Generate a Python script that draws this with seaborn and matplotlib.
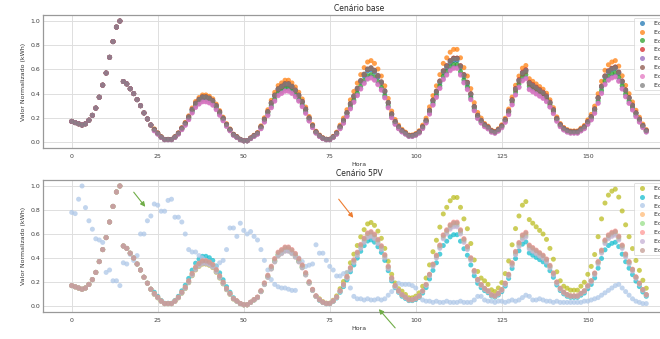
import numpy as np
import pandas as pd
import matplotlib
matplotlib.use("Agg")
import matplotlib.pyplot as plt
import seaborn as sns

# ---------------- data ----------------
hours = list(range(168))

# typical normalized hourly profile (middle series)
base_profile = [
    0.17, 0.16, 0.15, 0.14, 0.15, 0.18, 0.22, 0.28, 0.37, 0.47, 0.57, 0.70, 0.83, 0.95, 1.00,
    0.50, 0.48, 0.44, 0.40, 0.35, 0.30, 0.24, 0.19, 0.14, 0.10, 0.07, 0.04, 0.02, 0.02, 0.02,
    0.04, 0.07, 0.11, 0.15, 0.20, 0.26, 0.31, 0.34, 0.36, 0.36, 0.35, 0.33, 0.29, 0.24, 0.19,
    0.14, 0.10, 0.06, 0.04, 0.02, 0.01, 0.01, 0.03, 0.05, 0.07, 0.12, 0.18, 0.24, 0.31, 0.37,
    0.42, 0.44, 0.46, 0.46, 0.44, 0.41, 0.37, 0.32, 0.26, 0.19, 0.13, 0.08, 0.05, 0.03, 0.02,
    0.02, 0.04, 0.07, 0.12, 0.17, 0.23, 0.30, 0.36, 0.42, 0.48, 0.53, 0.57, 0.58, 0.56, 0.52,
    0.47, 0.40, 0.31, 0.22, 0.16, 0.12, 0.09, 0.07, 0.05, 0.05, 0.06, 0.08, 0.12, 0.17, 0.25,
    0.33, 0.40, 0.48, 0.56, 0.60, 0.64, 0.66, 0.66, 0.60, 0.53, 0.47, 0.38, 0.28, 0.21, 0.17,
    0.14, 0.12, 0.09, 0.08, 0.10, 0.13, 0.18, 0.25, 0.34, 0.43, 0.50, 0.56, 0.58, 0.48, 0.46,
    0.44, 0.42, 0.40, 0.37, 0.32, 0.26, 0.19, 0.14, 0.11, 0.09, 0.08, 0.08, 0.08, 0.10, 0.12,
    0.16, 0.20, 0.26, 0.35, 0.44, 0.52, 0.56, 0.58, 0.59, 0.55, 0.48, 0.41, 0.35, 0.29, 0.23,
    0.18, 0.13, 0.09,
]

# per-series daily level factors (day 0..6), scenario "base"
base_labels = ["Ed. 1", "Ed. 2", "Ed. 3", "Ed. 4", "Ed. 5", "Ed. 6", "Ed. 7", "Ed. 8"]
base_day_factors = [
    [1.00, 1.01, 1.02, 1.03, 1.02, 1.02, 1.03],
    [1.00, 1.08, 1.11, 1.16, 1.16, 1.09, 1.14],
    [1.00, 0.97, 0.96, 0.96, 0.97, 0.96, 0.97],
    [1.00, 1.03, 1.04, 1.05, 1.05, 1.03, 1.05],
    [1.00, 0.93, 0.92, 0.92, 0.93, 0.91, 0.92],
    [1.00, 1.04, 1.05, 1.06, 1.05, 1.00, 1.05],
    [1.00, 0.92, 0.91, 0.91, 0.92, 0.90, 0.91],
    [1.00, 1.03, 1.04, 1.05, 1.04, 1.02, 1.04],
]
base_colors = ["#1f77b4", "#ff7f0e", "#2ca02c", "#d62728",
               "#9467bd", "#8c564b", "#e377c2", "#7f7f7f"]

# scenario "5PV"
pv_labels = ["Ed. 1", "Ed. 2", "Ed. 3", "Ed. 4", "Ed. 5", "Ed. 6", "Ed. 7", "Ed. 8"]
pv_day_factors = [
    [1.00, 0.97, 1.00, 1.20, 1.37, 1.50, 1.65],
    [1.00, 1.15, 1.02, 0.95, 0.90, 0.92, 0.90],
    None,
    [1.00, 1.02, 1.03, 1.04, 1.04, 1.03, 1.04],
    [1.00, 1.00, 1.01, 1.02, 1.02, 1.01, 1.02],
    [1.00, 1.05, 1.07, 1.07, 1.06, 1.06, 1.06],
    [1.00, 0.98, 0.99, 1.00, 1.00, 0.99, 1.00],
    [1.00, 1.04, 1.06, 1.06, 1.05, 1.05, 1.05],
]
pv_outlier = [
    0.78, 0.77, 0.89, 1.00, 0.82, 0.71, 0.64, 0.56, 0.55, 0.53, 0.28, 0.30, 0.21, 0.21, 0.17,
    0.36, 0.35, 0.43, 0.38, 0.42, 0.60, 0.60, 0.71, 0.75, 0.85, 0.84, 0.79, 0.79, 0.88, 0.89,
    0.74, 0.74, 0.70, 0.60, 0.47, 0.45, 0.45, 0.42, 0.40, 0.38, 0.36, 0.33, 0.33, 0.36, 0.38,
    0.47, 0.65, 0.65, 0.58, 0.69, 0.63, 0.60, 0.62, 0.58, 0.55, 0.47, 0.38, 0.30, 0.22, 0.18,
    0.16, 0.15, 0.15, 0.14, 0.13, 0.13, 0.40, 0.37, 0.33, 0.34, 0.35, 0.51, 0.44, 0.44, 0.38,
    0.33, 0.30, 0.25, 0.25, 0.27, 0.28, 0.15, 0.08, 0.06, 0.06, 0.05, 0.06, 0.05, 0.05, 0.06,
    0.05, 0.06, 0.09, 0.12, 0.16, 0.19, 0.18, 0.18, 0.18, 0.17, 0.15, 0.08, 0.05, 0.04, 0.04,
    0.03, 0.04, 0.03, 0.03, 0.04, 0.03, 0.03, 0.03, 0.04, 0.03, 0.03, 0.03, 0.05, 0.08, 0.08,
    0.05, 0.04, 0.04, 0.03, 0.04, 0.04, 0.03, 0.04, 0.05, 0.04, 0.05, 0.07, 0.09, 0.08, 0.05,
    0.05, 0.06, 0.05, 0.04, 0.04, 0.03, 0.04, 0.03, 0.03, 0.03, 0.03, 0.03, 0.03, 0.03, 0.04,
    0.04, 0.05, 0.06, 0.07, 0.09, 0.11, 0.13, 0.15, 0.17, 0.18, 0.15, 0.12, 0.09, 0.06, 0.04,
    0.03, 0.02, 0.02,
]
pv_colors = ["#bcbd22", "#17becf", "#aec7e8", "#ffbb78",
             "#98df8a", "#ff9896", "#c5b0d5", "#c49c94"]

x_ticks = [0, 25, 50, 75, 100, 125, 150]
y_ticks = [0.0, 0.2, 0.4, 0.6, 0.8, 1.0]


def build(labels, factors, outlier=None):
    rows = []
    prof = np.array(base_profile)
    day = np.array(hours) // 24
    for lab, fac in zip(labels, factors):
        if fac is None:
            vals = np.array(outlier)
        else:
            vals = prof * np.array(fac)[day]
        rows.append(pd.DataFrame({"Hora": hours, "Valor": vals, "Série": lab}))
    return pd.concat(rows, ignore_index=True)


df_base = build(base_labels, base_day_factors)
df_pv = build(pv_labels, pv_day_factors, pv_outlier)

# ---------------- plot ----------------
sns.set_style("whitegrid", {"axes.edgecolor": "0.6", "grid.color": "0.87"})
plt.rcParams["font.family"] = ["DejaVu Sans"]

W, H = 660, 339
fig = plt.figure(figsize=(W / 100, H / 100), dpi=100)
ax1 = fig.add_axes([43 / W, 1 - 148 / H, 632 / W, 133 / H])
ax2 = fig.add_axes([43 / W, 1 - 312 / H, 632 / W, 132 / H])

for ax, df, cols, title in [(ax1, df_base, base_colors, "Cenário base"),
                            (ax2, df_pv, pv_colors, "Cenário 5PV")]:
    sns.scatterplot(data=df, x="Hora", y="Valor", hue="Série", palette=cols,
                    s=13, alpha=0.75, linewidth=0, ax=ax)
    ax.set_xlim(-8.35, 175.35)
    ax.set_ylim(-0.05, 1.05)
    ax.set_xticks(x_ticks)
    ax.set_yticks(y_ticks)
    ax.set_yticklabels([f"{v:.1f}" for v in y_ticks])
    ax.tick_params(labelsize=4.5, colors="0.25", pad=2, length=0)
    ax.tick_params(axis="x", pad=4)
    ax.set_xlabel("Hora", fontsize=4.5, labelpad=2.5, color="0.2")
    ax.set_ylabel("Valor Normalizado (kWh)", fontsize=4.5, labelpad=3, color="0.2")
    ax.set_title(title, fontsize=5.5, pad=3, color="0.15")
    for sp in ax.spines.values():
        sp.set_linewidth(0.9)
    ax.grid(linewidth=0.7)
    leg = ax.legend(loc="upper right", fontsize=4.5, frameon=True,
                    borderaxespad=0.5, handletextpad=0.8, labelspacing=0.55)
    leg.get_frame().set_linewidth(0.5)

# annotation arrows
arrow_specs = [((147, H - 209), (132, H - 190), "#70ad47"),
               ((355, H - 220), (337, H - 197), "#ed7d31"),
               ((377, H - 307), (397, H - 330), "#70ad47")]
for head, tail, c in arrow_specs:
    fig.add_artist(matplotlib.patches.FancyArrowPatch(
        tail, head, transform=None, arrowstyle="-|>", mutation_scale=7,
        color=c, linewidth=0.8))

fig.savefig("out.png", dpi=100)
